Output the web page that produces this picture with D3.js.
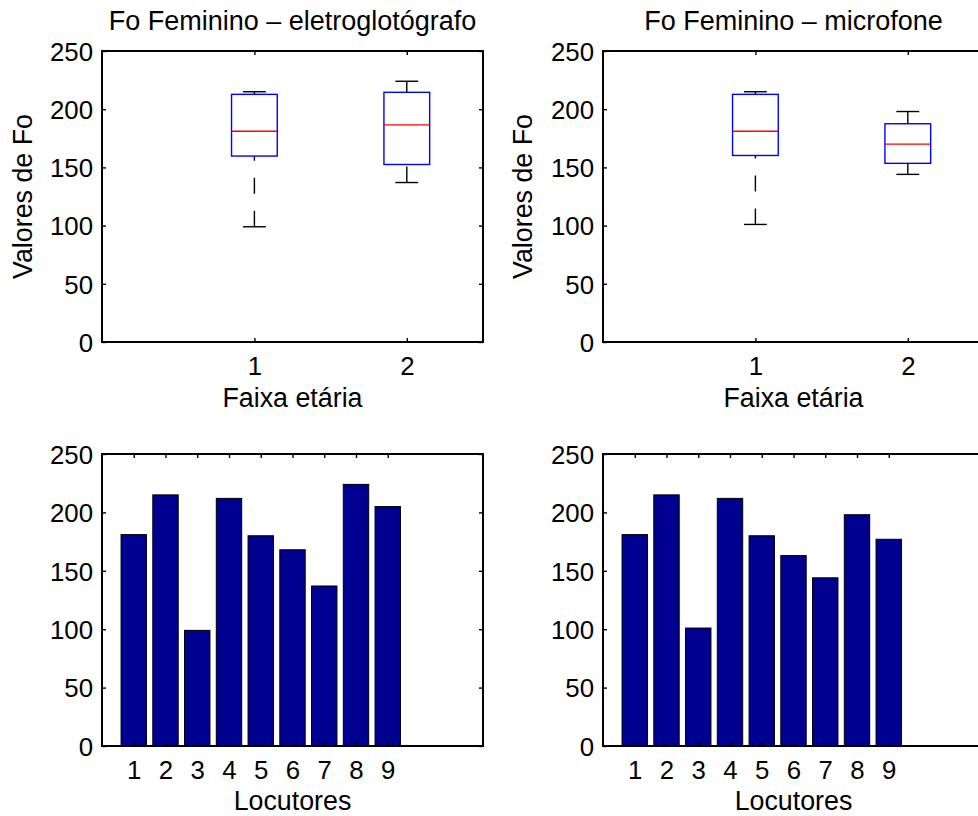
<!DOCTYPE html>
<html lang="pt">
<head>
<meta charset="UTF-8">
<title>Fo Feminino</title>
<script src="https://cdn.jsdelivr.net/npm/d3@7"></script>
<style>
  body { margin: 0; background: #fff; }
  text { font-family: "Liberation Sans", Arial, Helvetica, sans-serif; fill: #000; }
</style>
</head>
<body>
<div id="chart"></div>
<script>
// faixa etaria (boxplots), stats
var faixas = [1, 2];
var eggLow = [99, 137], eggQ1 = [159.75, 152.5], eggMed = [181, 186.5], eggQ3 = [212.75, 214.5], eggHigh = [215, 224];
var micLow = [101, 144], micQ1 = [160.25, 153.5], micMed = [181, 170], micQ3 = [212.75, 187.5], micHigh = [215, 198];

// Fo per locutor (bars)
var locutores = [1, 2, 3, 4, 5, 6, 7, 8, 9];
var eggFo = [181, 215, 99, 212, 180, 168, 137, 224, 205];
var micFo = [181, 215, 101, 212, 180, 163, 144, 198, 177];

var yTicks = [0, 50, 100, 150, 200, 250];

var svg = d3.select("#chart").append("svg").attr("width", 978).attr("height", 816);

// one panel: scales, inward ticks on all four sides, box frame
function frame(x, y, xt) {
  var g = svg.append("g");
  var x0 = x.range()[0], x1 = x.range()[1], y0 = y.range()[0], y1 = y.range()[1];
  var tk = 4;
  var gb = g.append("g").attr("transform", "translate(0," + y0 + ")")
    .call(d3.axisBottom(x).tickValues(xt).tickSize(-tk).tickFormat(d3.format("d")));
  gb.selectAll("text").attr("y", 33).attr("dy", null).style("font-size", "25.8px");
  g.append("g").attr("transform", "translate(0," + y1 + ")")
    .call(d3.axisTop(x).tickValues(xt).tickSize(-tk).tickFormat(""));
  var gl = g.append("g").attr("transform", "translate(" + x0 + ",0)")
    .call(d3.axisLeft(y).tickValues(yTicks).tickSize(-tk).tickPadding(9));
  gl.selectAll("text").attr("dy", "0.36em").style("font-size", "25.8px");
  g.append("g").attr("transform", "translate(" + x1 + ",0)")
    .call(d3.axisRight(y).tickValues(yTicks).tickSize(-tk).tickFormat(""));
  g.selectAll(".domain").remove();
  g.selectAll(".tick line").attr("stroke", "#000").attr("stroke-width", 1.4);
  g.selectAll(".tick text").attr("fill", "#000").style("font-family", "'Liberation Sans', Arial, sans-serif");
  g.append("rect").attr("x", x0).attr("y", y1).attr("width", x1 - x0).attr("height", y0 - y1)
    .attr("fill", "none").attr("stroke", "#000").attr("stroke-width", 2);
  return g;
}

function boxPanel(left, title, lo, q1, med, q3, hi, ylab) {
  var x = d3.scaleLinear().domain([0, 2.5]).range([left, left + 381]);
  var y = d3.scaleLinear().domain([0, 250]).range([342, 51]);
  var g = svg.append("g");
  var bw = 0.15, cw = 0.075;
  faixas.forEach(function (f, i) {
    // whiskers drawn from cap towards box
    g.append("line").attr("x1", x(f)).attr("x2", x(f)).attr("y1", y(hi[i])).attr("y2", y(q3[i]))
      .attr("stroke", "#000").attr("stroke-width", 1.4).attr("stroke-dasharray", "16,17");
    g.append("line").attr("x1", x(f)).attr("x2", x(f)).attr("y1", y(lo[i])).attr("y2", y(q1[i]))
      .attr("stroke", "#000").attr("stroke-width", 1.4).attr("stroke-dasharray", "16,17");
    [hi[i], lo[i]].forEach(function (v) {
      g.append("line").attr("x1", x(f - cw)).attr("x2", x(f + cw)).attr("y1", y(v)).attr("y2", y(v))
        .attr("stroke", "#000").attr("stroke-width", 1.4);
    });
    g.append("rect").attr("x", x(f - bw)).attr("width", x(f + bw) - x(f - bw))
      .attr("y", y(q3[i])).attr("height", y(q1[i]) - y(q3[i]))
      .attr("fill", "none").attr("stroke", "#0000ff").attr("stroke-width", 1.4);
    g.append("line").attr("x1", x(f - bw)).attr("x2", x(f + bw)).attr("y1", y(med[i])).attr("y2", y(med[i]))
      .attr("stroke", "#ff0000").attr("stroke-width", 1.4);
  });
  frame(x, y, faixas);
  var cx = left + 190.5;
  svg.append("text").attr("x", cx).attr("y", 30).attr("text-anchor", "middle")
    .style("font-size", "27px").text(title);
  svg.append("text").attr("x", cx).attr("y", 407).attr("text-anchor", "middle")
    .style("font-size", "26.8px").text("Faixa etária");
  svg.append("text").attr("transform", "translate(" + ylab + ",196.5) rotate(-90)")
    .attr("text-anchor", "middle").style("font-size", "26.8px").text("Valores de Fo");
}

function barPanel(left, vals) {
  var x = d3.scaleLinear().domain([0, 12]).range([left, left + 381]);
  var y = d3.scaleLinear().domain([0, 250]).range([746, 454]);
  var g = svg.append("g");
  g.selectAll("rect").data(vals).enter().append("rect")
    .attr("x", function (d, i) { return x(locutores[i] - 0.4); })
    .attr("width", x(0.8) - x(0))
    .attr("y", function (d) { return y(d); })
    .attr("height", function (d) { return y(0) - y(d); })
    .attr("fill", "#000090").attr("stroke", "#000").attr("stroke-width", 1);
  frame(x, y, locutores);
  svg.append("text").attr("x", left + 190.5).attr("y", 810).attr("text-anchor", "middle")
    .style("font-size", "26.8px").text("Locutores");
}

boxPanel(102, "Fo Feminino – eletroglotógrafo", eggLow, eggQ1, eggMed, eggQ3, eggHigh, 32);
boxPanel(603, "Fo Feminino – microfone", micLow, micQ1, micMed, micQ3, micHigh, 532);
barPanel(102, eggFo);
barPanel(603, micFo);
</script>
</body>
</html>
